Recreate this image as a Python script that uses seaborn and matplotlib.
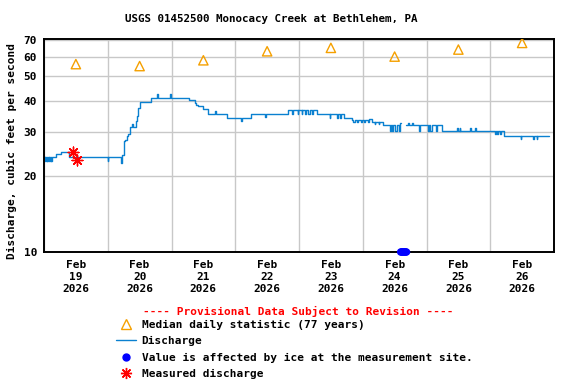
import matplotlib
matplotlib.use("Agg")
import matplotlib.pyplot as plt
from matplotlib.lines import Line2D
from matplotlib.ticker import NullLocator
import pandas as pd
import seaborn as sns

# time axis: hours after 2026-02-19 00:00, step trace breakpoints of 15-min data
q_hours_a = [0, 0.25, 0.5, 0.75, 1.0, 1.25, 1.5, 1.75, 2.0, 2.25, 2.5, 2.75, 3.0,
             4.5, 6.5, 9.25, 24.0, 24.25, 29.0, 29.25, 29.6, 30.1, 30.5, 31.2,
             31.8, 32.4, 33.0, 33.6, 34.7, 35.0, 35.5, 36.2, 40.2, 42.5, 42.75,
             47.5, 47.75, 54.6, 56.9, 57.3, 58.1, 60.0, 61.7, 64.4, 64.65, 68.8,
             74.2, 74.45, 78.0, 83.3, 83.55, 92.0, 93.5, 93.75, 95.5, 95.75,
             97.0, 97.25, 98.25, 98.5, 99.5, 100.0, 101.0, 101.25, 102.7, 107.5,
             107.75, 110.4, 110.65, 111.5, 111.75, 112.8, 115.9, 116.5, 117.0,
             118.0, 118.25, 119.5, 119.75, 120.5, 120.75, 122.0, 122.5, 123.5,
             124.5, 124.75, 126.0, 126.25, 127.8, 130.1, 130.5, 131.0, 131.5,
             132.0, 133.0, 133.5, 134.0, 134.4]
q_vals_a = [24, 23, 24, 23, 24, 23, 24, 23, 24, 23, 24, 23, 24,
            24.5, 25, 24, 23, 24, 22.7, 24.4, 24.4, 27.6, 28, 28.9,
            29.4, 31.4, 32.4, 31.5, 33.2, 34.8, 37.6, 39.7, 41, 42.5, 41,
            42.5, 41, 40.2, 39.3, 38.5, 38.2, 37, 35.6, 36.5, 35.6, 34.1,
            33.3, 34.1, 35.6, 34.5, 35.6, 36.7, 35.6, 36.7, 35.6, 36.7,
            35.6, 36.7, 35.6, 36.7, 35.6, 36.7, 35.6, 36.7, 35.6, 34.3,
            35.6, 34.3, 35.6, 34.3, 35.6, 34.3, 33.5, 32.8, 33.5,
            32.8, 33.5, 32.8, 33.5, 32.8, 33.5, 32.8, 33.7, 32.8,
            32.2, 32.8, 32.2, 32.8, 31.9, 30.3, 31.9, 30.3, 31.9,
            30.3, 31.9, 30.3, 32.5, 32.5]
q_hours_b = [136.4, 137.0, 137.5, 138.5, 138.75, 141.3, 141.55, 144.4, 145.0,
             145.5, 146.0, 147.5, 148.0, 149.8, 155.5, 155.75, 156.5, 156.75,
             160.5, 160.75, 162.4, 162.65, 169.9, 170.2, 170.5, 171.0, 171.5,
             172.0, 173.1, 179.4, 179.65, 184.2, 184.45, 185.5, 185.75, 190.0]
q_vals_b = [31.9, 32.5, 31.9, 32.5, 31.9, 30.3, 31.9, 30.3, 31.9,
            30.3, 31.9, 30.3, 31.9, 30.3, 31.2, 30.3, 31.2, 30.3,
            31.2, 30.3, 31.2, 30.3, 29.5, 30.3, 29.5, 30.3, 29.5,
            30.3, 28.9, 28.2, 28.9, 28.2, 28.9, 28.2, 28.9, 28.9]

ice_hours = [134.25, 134.5, 134.75, 135.0, 135.25, 135.5, 135.75, 136.0, 136.25, 136.5]
ice_vals = [10, 10, 10, 10, 10, 10, 10, 10, 10, 10]

meas_hours = [11.0, 12.3]
meas_vals = [25.0, 23.2]

median_hours = [12, 36, 60, 84, 108, 132, 156, 180]
median_vals = [56, 55, 58, 63, 65, 60, 64, 68]

day_labels = ["Feb\n19\n2026", "Feb\n20\n2026", "Feb\n21\n2026", "Feb\n22\n2026",
              "Feb\n23\n2026", "Feb\n24\n2026", "Feb\n25\n2026", "Feb\n26\n2026"]
day_edges = [0, 24, 48, 72, 96, 120, 144, 168, 192]
y_ticks = [10, 20, 30, 40, 50, 60, 70]

flow = pd.concat([
    pd.DataFrame({"hours": q_hours_a, "cfs": q_vals_a, "seg": 0}),
    pd.DataFrame({"hours": q_hours_b, "cfs": q_vals_b, "seg": 1}),
])

sns.set_style("white")
plt.rcParams["font.family"] = ["DejaVu Sans Mono"]
plt.rcParams["font.weight"] = "bold"
plt.rcParams["font.size"] = 8
plt.rcParams["text.color"] = "black"
plt.rcParams["xtick.color"] = "black"
plt.rcParams["ytick.color"] = "black"

blue = "#0a80d0"
orange = "#f5a000"

fig = plt.figure(figsize=(5.76, 3.84), dpi=100)
ax = fig.add_axes([44 / 576, 1 - 252 / 384, 510 / 576, 213 / 384])

sns.lineplot(data=flow, x="hours", y="cfs", units="seg", estimator=None,
             drawstyle="steps-post", color=blue, linewidth=1, ax=ax, legend=False)
sns.scatterplot(x=median_hours, y=median_vals, marker="^", s=45, facecolor="none",
                edgecolor=orange, linewidth=1, ax=ax, zorder=4)
sns.scatterplot(x=ice_hours, y=ice_vals, color="#0000ff", s=28, edgecolor="none",
                ax=ax, zorder=5, clip_on=False)
sns.scatterplot(x=meas_hours, y=meas_vals, marker=(8, 2, 0), s=60, color="#ff0000",
                linewidth=1, ax=ax, zorder=6)

ax.set_yscale("log")
ax.set_ylim(10, 70.5)
ax.set_yticks(y_ticks)
ax.set_yticklabels([str(v) for v in y_ticks])
ax.yaxis.set_minor_locator(NullLocator())
ax.set_xlim(0, 192)
ax.set_xticks(median_hours)
ax.set_xticklabels(day_labels)
ax.set_xticks(day_edges, minor=True)
ax.tick_params(which="both", length=0)
ax.tick_params(axis="x", pad=6)
ax.tick_params(axis="y", pad=5)
ax.grid(False)
ax.grid(True, which="minor", axis="x", color="#c8c8c8", linewidth=1)
ax.grid(True, which="major", axis="y", color="#c8c8c8", linewidth=1)
ax.set_axisbelow(True)
ax.set_xlabel("")
ax.set_ylabel("")
for s in ax.spines.values():
    s.set_color("black")
    s.set_linewidth(1.4)

fig.text(271 / 576, 1 - 19 / 384, "USGS 01452500 Monocacy Creek at Bethlehem, PA",
         ha="center", va="center", fontsize=7.8)
fig.text(12 / 576, 1 - 151 / 384, "Discharge, cubic feet per second",
         rotation=90, ha="center", va="center")
fig.text(298 / 576, 1 - 311 / 384, "---- Provisional Data Subject to Revision ----",
         color="#ff0000", ha="center", va="center")

handles = [
    Line2D([], [], marker="^", ls="none", mfc="none", mec=orange, ms=7),
    Line2D([], [], color=blue, lw=1),
    Line2D([], [], marker="o", ls="none", color="#0000ff", ms=5),
    Line2D([], [], marker=(8, 2, 0), ls="none", color="#ff0000", ms=8),
]
labels = ["Median daily statistic (77 years)", "Discharge",
          "Value is affected by ice at the measurement site.", "Measured discharge"]
fig.legend(handles, labels, loc="upper left", bbox_to_anchor=(116 / 576, 1 - 320 / 384),
           frameon=False, handlelength=1.8, handletextpad=0.5, labelspacing=0.56,
           borderpad=0, borderaxespad=0)

fig.savefig("out.png", dpi=100)
